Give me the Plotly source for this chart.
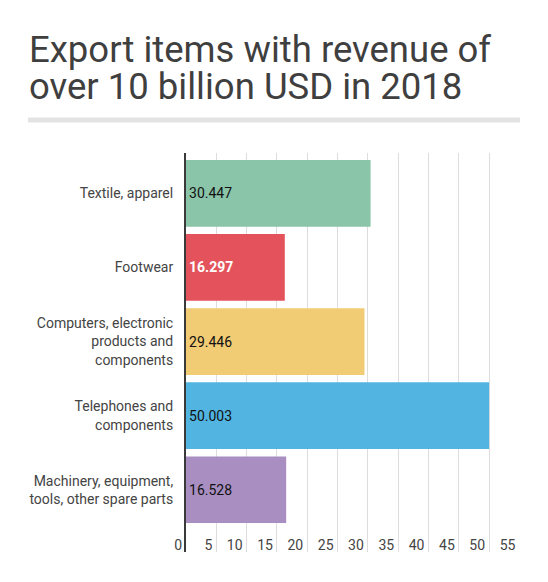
import plotly.graph_objects as go

# Data
categories = [
    "Textile, apparel",
    "Footwear",
    "Computers, electronic<br>products and<br>components",
    "Telephones and<br>components",
    "Machinery, equipment,<br>tools, other spare parts",
]
values = [30.447, 16.297, 29.446, 50.003, 16.528]
colors = ["#8AC4A9", "#E4535B", "#F2CB75", "#52B5E1", "#A98EC2"]
label_colors = ["#111111", "#FFFFFF", "#111111", "#111111", "#111111"]
x_ticks = [0, 5, 10, 15, 20, 25, 30, 35, 40, 45, 50, 55]

positions = list(range(len(categories)))
labels = [f"<b>{v:.3f}</b>" if c == "#FFFFFF" else f"{v:.3f}"
          for v, c in zip(values, label_colors)]

fig = go.Figure()

fig.add_trace(go.Bar(
    x=values,
    y=positions,
    orientation='h',
    marker=dict(color=colors, line=dict(width=0)),
    width=0.9,
    text=labels,
    textposition='inside',
    insidetextanchor='start',
    insidetextfont=dict(family='Roboto', size=14, color=label_colors),
    hoverinfo='x+y',
))

# Title in two lines (tight line spacing)
title_font = dict(family='Roboto', size=36.5, color='#3f3f3f')
fig.add_annotation(
    text="Export items with revenue of", xref='paper', yref='paper',
    x=-159 / 334, y=1.0, xanchor='left', yanchor='bottom',
    yshift=80, showarrow=False, font=title_font,
)
fig.add_annotation(
    text="over 10 billion USD in 2018", xref='paper', yref='paper',
    x=-159 / 334, y=1.0, xanchor='left', yanchor='bottom',
    yshift=43, showarrow=False, font=title_font,
)

# Gray rule under the title
fig.add_shape(
    type='line', xref='paper', yref='paper',
    x0=-158 / 334, x1=1.0, y0=1 + 33 / 399, y1=1 + 33 / 399,
    line=dict(color='#e3e3e3', width=5),
)

# page body adds an 8px margin, so the figure is 8px smaller on each side
fig.update_layout(
    width=540,
    height=574,
    margin=dict(l=178, r=28, t=145, b=30),
    paper_bgcolor='white',
    plot_bgcolor='white',
    showlegend=False,
    font=dict(family='Roboto', size=14, color='#444444'),
    xaxis=dict(
        range=[0, 55.1],
        tickvals=x_ticks,
        ticktext=[str(t) for t in x_ticks],
        showgrid=True,
        gridcolor='#dddddd',
        gridwidth=1,
        zeroline=False,
        showline=False,
        ticks='',
        ticklabelposition='inside left',
        ticklabeloverflow='allow',
        ticklabelstandoff=-7,
        ticklabelshift=-4,
        tickfont=dict(family='Roboto', size=14, color='#444444'),
        fixedrange=True,
    ),
    yaxis=dict(
        tickvals=positions,
        ticktext=categories,
        range=[4.84, -0.544],
        showgrid=False,
        zeroline=False,
        showline=True,
        linecolor='#3a3a3a',
        linewidth=2,
        ticks='outside',
        ticklen=8,
        tickcolor='rgba(0,0,0,0)',
        tickfont=dict(family='Roboto', size=14, color='#444444'),
        fixedrange=True,
    ),
)

fig.write_html("out.html")
